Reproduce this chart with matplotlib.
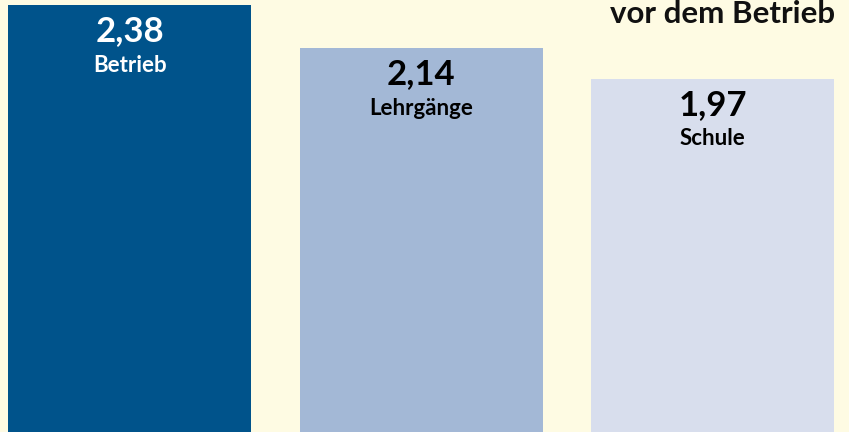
import matplotlib.pyplot as plt

# Werte aus dem Diagramm
kategorien = ['Betrieb', 'Lehrgänge', 'Schule']
werte = [2.38, 2.14, 1.97]
wert_texte = ['2,38', '2,14', '1,97']
farben = ['#00538B', '#A3B8D6', '#D8DEED']
text_farben = ['white', 'black', 'black']

plt.rcParams['font.family'] = ['Lato', 'DejaVu Sans']

fig = plt.figure(figsize=(8.49, 4.32), dpi=100)
fig.patch.set_facecolor('#FEFBE3')
ax = fig.add_axes([0, 0, 1, 1])
ax.set_facecolor('#FEFBE3')

x = range(len(werte))
ax.bar(x, werte, width=0.834, color=farben)
ax.set_xlim(-0.446, 2.468)
ax.set_ylim(0, 2.408)
ax.axis('off')

# Beschriftung in den Balken (Abstand in Punkten unter der Oberkante)
for i, (w, t, k, c) in enumerate(zip(werte, wert_texte, kategorien, text_farben)):
    ax.annotate(t, (i, w), xytext=(0, -19), textcoords='offset points',
                ha='center', va='center', fontsize=25, fontweight='bold', color=c)
    ax.annotate(k, (i, w), xytext=(0, -43.5), textcoords='offset points',
                ha='center', va='center', fontsize=16, fontweight='bold', color=c)

fig.text(610 / 849, 1 - 23 / 432, 'vor dem Betrieb', ha='left', va='baseline',
         fontsize=22.5, fontweight='bold', color='#111111')

fig.savefig('out.png', dpi=100, facecolor=fig.get_facecolor())
